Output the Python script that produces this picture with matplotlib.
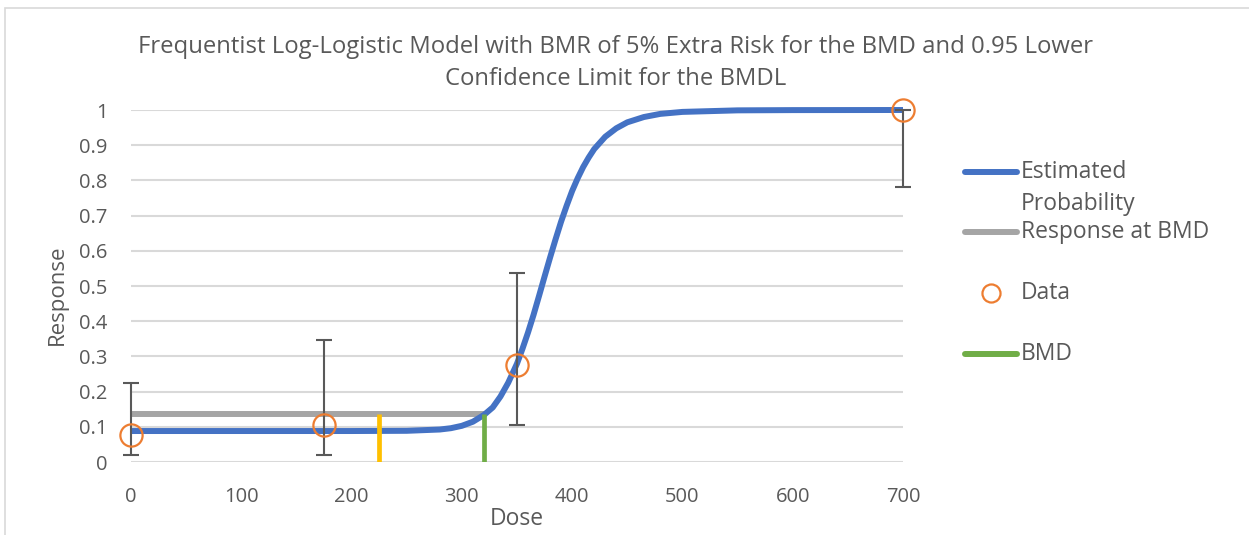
import matplotlib.pyplot as plt
from matplotlib.lines import Line2D
from matplotlib.patches import Rectangle

plt.rcParams['font.family'] = ['Open Sans', 'DejaVu Sans']

# fitted log-logistic curve (dose, estimated probability)
curve_dose = [0, 50, 100, 150, 200, 250, 280, 290, 300, 310, 320, 328, 335, 342,
              350, 355, 360, 365, 370, 375, 380, 385, 390, 395, 400, 405, 410,
              415, 420, 430, 440, 450, 465, 480, 500, 550, 600, 700]
curve_prob = [0.088, 0.088, 0.088, 0.088, 0.088, 0.0886, 0.0923, 0.096, 0.1028,
              0.1144, 0.1336, 0.155, 0.186, 0.225, 0.2795, 0.322, 0.368, 0.418,
              0.472, 0.527, 0.581, 0.633, 0.683, 0.728, 0.770, 0.806, 0.838,
              0.865, 0.889, 0.924, 0.948, 0.965, 0.980, 0.989, 0.9946, 0.999,
              0.9997, 1.0]

# observed data with confidence limits
data_dose = [0, 175, 350, 700]
data_resp = [0.077, 0.104, 0.276, 1.0]
data_lower = [0.020, 0.020, 0.106, 0.780]
data_upper = [0.224, 0.346, 0.537, 1.0]

bmd = 320
bmdl = 225
bmd_response = 0.135

title = ("Frequentist Log-Logistic Model with BMR of 5% Extra Risk for the BMD and 0.95 Lower\n"
         "Confidence Limit for the BMDL")

blue = '#4472C4'
gray = '#A5A5A5'
orange = '#ED7D31'
green = '#70AD47'
yellow = '#FFC000'
text_col = '#595959'

fig = plt.figure(figsize=(12.49, 5.35), dpi=100)
ax = fig.add_axes([131 / 1249, 1 - 462 / 535, (903 - 131) / 1249, (462 - 110) / 535])

# chart area border
fig.patches.append(Rectangle((5 / 1249, -0.1), 1.1, 1 - 8 / 535 + 0.1,
                             transform=fig.transFigure, fill=False,
                             edgecolor='#D9D9D9', linewidth=1.2))

ax.set_xlim(0, 700)
ax.set_ylim(0, 1)
ax.set_xticks(range(0, 701, 100))
ax.set_yticks([i / 10 for i in range(11)])
ax.set_yticklabels(['0', '0.1', '0.2', '0.3', '0.4', '0.5', '0.6', '0.7', '0.8', '0.9', '1'])
for s in ax.spines.values():
    s.set_visible(False)
ax.tick_params(length=0, labelsize=14.5, colors=text_col)
ax.tick_params(axis='y', pad=17)
ax.tick_params(axis='x', pad=18)
ax.grid(axis='y', color='#D9D9D9', linewidth=1.5)
ax.set_axisbelow(True)

ax.plot([0, bmd], [bmd_response, bmd_response], color=gray, linewidth=4.3,
        solid_capstyle='butt', zorder=2)
ax.plot(curve_dose, curve_prob, color=blue, linewidth=4.3, zorder=3,
        solid_capstyle='butt', clip_on=False)
ax.plot([bmdl, bmdl], [0, bmd_response], color=yellow, linewidth=3.4,
        solid_capstyle='butt', zorder=3)
ax.plot([bmd, bmd], [0, bmd_response], color=green, linewidth=3.4,
        solid_capstyle='butt', zorder=3)

yerr = [[r - lo for r, lo in zip(data_resp, data_lower)],
        [hi - r for r, hi in zip(data_resp, data_upper)]]
ax.errorbar(data_dose, data_resp, yerr=yerr, fmt='none', ecolor=text_col,
            elinewidth=1.5, capsize=5.5, capthick=1.5, zorder=4, clip_on=False)
ax.plot(data_dose, data_resp, linestyle='none', marker='o', markersize=16,
        markerfacecolor='none', markeredgecolor=orange, markeredgewidth=1.6,
        zorder=5, clip_on=False)

fig.text(616 / 1249, 1 - 63 / 535, title, ha='center', va='center',
         fontsize=17.2, color=text_col, linespacing=1.4)
fig.text(57 / 1249, 1 - 295 / 535, 'Response', rotation=90, ha='center',
         va='center', fontsize=16, color=text_col)
fig.text(517 / 1249, 1 - 519 / 535, 'Dose', ha='center', va='center',
         fontsize=16.5, color=text_col)

# legend
def fx(px):
    return px / 1249

def fy(py):
    return 1 - py / 535

leg_items = [
    (172, blue, 'line'), (232, gray, 'line'), (293, orange, 'marker'), (354, green, 'line'),
]
for py, col, kind in leg_items:
    if kind == 'line':
        fig.add_artist(Line2D([fx(965), fx(1017)], [fy(py), fy(py)], color=col,
                              linewidth=4.3, solid_capstyle='round'))
    else:
        fig.add_artist(Line2D([fx(991)], [fy(py)], marker='o', markersize=13,
                              markerfacecolor='none', markeredgecolor=col,
                              markeredgewidth=1.6, linestyle='none'))
leg_labels = [(172, 'Estimated'), (204, 'Probability'), (232, 'Response at BMD'),
              (293, 'Data'), (354, 'BMD')]
for py, txt in leg_labels:
    fig.text(fx(1021), fy(py), txt, ha='left', va='center', fontsize=16.5, color=text_col)

fig.savefig('out.png', dpi=100)
